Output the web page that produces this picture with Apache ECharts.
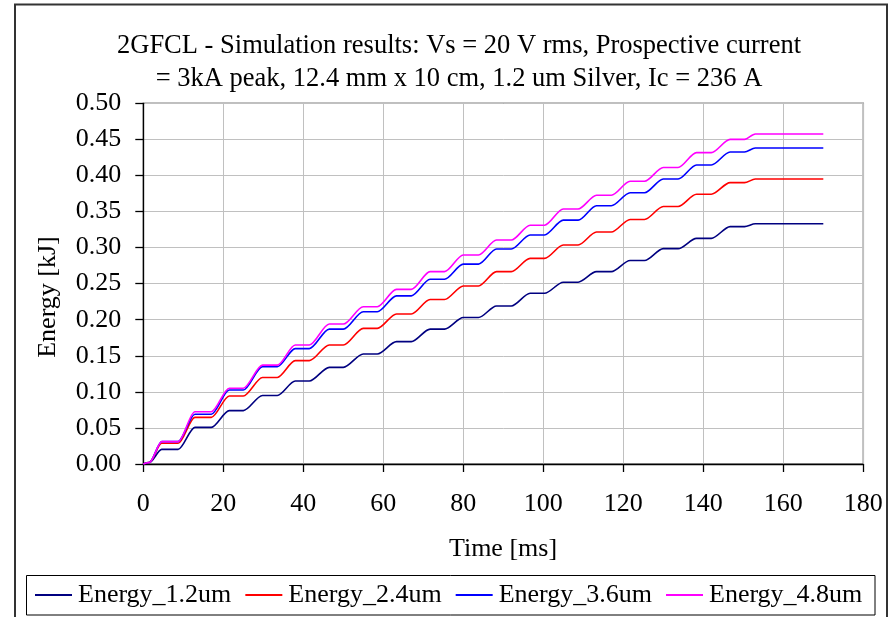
<!DOCTYPE html>
<html>
<head>
<meta charset="utf-8">
<script src="https://cdn.jsdelivr.net/npm/echarts@6/dist/echarts.min.js"></script>
<style>html,body{margin:0;padding:0;background:#fff;}#c{width:893px;height:617px;}</style>
</head>
<body>
<div id="c"></div>
<script>
var seriesNames = ['Energy_1.2um', 'Energy_2.4um', 'Energy_3.6um', 'Energy_4.8um'];
var seriesColors = ['#000080', '#ff0000', '#0000ff', '#ff00ff'];
var xTicks = [0, 20, 40, 60, 80, 100, 120, 140, 160, 180];
var yTicks = [0, 0.05, 0.1, 0.15, 0.2, 0.25, 0.3, 0.35, 0.4, 0.45, 0.5];

var timeMs = [0, 1.5, 4.6, 8.7, 12.9, 17.0, 21.5, 25.0, 29.8, 33.5, 38.0, 41.5, 46.5, 50.0, 55.0, 58.5,
  63.3, 67.0, 71.7, 75.3, 80.0, 83.8, 88.3, 92.0, 96.7, 100.3, 105.0, 108.7, 113.3, 117.0,
  121.7, 125.3, 130.0, 133.7, 138.3, 142.0, 146.7, 150.3, 153.0, 170.0];

var energy12 = [0, 0.002, 0.0203, 0.0203, 0.0508, 0.0508, 0.074, 0.074, 0.095, 0.095, 0.115, 0.115,
  0.134, 0.134, 0.1525, 0.1525, 0.1696, 0.1696, 0.187, 0.187, 0.203, 0.203, 0.219, 0.219,
  0.2366, 0.2366, 0.252, 0.252, 0.2666, 0.2666, 0.282, 0.282, 0.2985, 0.2985, 0.3128, 0.3128,
  0.329, 0.329, 0.333, 0.333];
var energy24 = [0, 0.002, 0.0287, 0.0287, 0.0647, 0.0647, 0.0943, 0.0943, 0.120, 0.120, 0.1433, 0.1433,
  0.165, 0.165, 0.188, 0.188, 0.208, 0.208, 0.228, 0.228, 0.2468, 0.2468, 0.2666, 0.2666,
  0.285, 0.285, 0.3036, 0.3036, 0.3215, 0.3215, 0.339, 0.339, 0.357, 0.357, 0.374, 0.374,
  0.390, 0.390, 0.395, 0.395];
var energy36 = [0, 0.002, 0.031, 0.031, 0.069, 0.069, 0.1026, 0.1026, 0.135, 0.135, 0.160, 0.160,
  0.187, 0.187, 0.211, 0.211, 0.233, 0.233, 0.256, 0.256, 0.277, 0.277, 0.298, 0.298,
  0.3175, 0.3175, 0.338, 0.338, 0.358, 0.358, 0.376, 0.376, 0.395, 0.395, 0.4145, 0.4145,
  0.4325, 0.4325, 0.438, 0.438];
var energy48 = [0, 0.002, 0.031, 0.031, 0.0725, 0.0725, 0.105, 0.105, 0.137, 0.137, 0.165, 0.165,
  0.194, 0.194, 0.218, 0.218, 0.242, 0.242, 0.2666, 0.2666, 0.2897, 0.2897, 0.3105, 0.3105,
  0.331, 0.331, 0.3535, 0.3535, 0.3725, 0.3725, 0.392, 0.392, 0.411, 0.411, 0.4316, 0.4316,
  0.450, 0.450, 0.4575, 0.4575];

var allEnergy = [energy12, energy24, energy36, energy48];
var FONT = '"Liberation Serif", "Times New Roman", serif';

function pairs(vals) {
  return timeMs.map(function (t, i) { return [t, vals[i]]; });
}

var series = seriesNames.map(function (name, k) {
  return {
    name: name,
    type: 'line',
    data: pairs(allEnergy[k]),
    showSymbol: false,
    symbol: 'none',
    smooth: 0.3,
    smoothMonotone: 'x',
    lineStyle: { color: seriesColors[k], width: 1.6 },
    itemStyle: { color: seriesColors[k] },
    emphasis: { disabled: true },
    animation: false,
    z: 3 + k
  };
});

var chart = echarts.init(document.getElementById('c'), null, { renderer: 'canvas' });
chart.setOption({
  animation: false,
  backgroundColor: '#ffffff',
  title: {
    text: '2GFCL - Simulation results: Vs = 20 V rms, Prospective current\n= 3kA peak, 12.4 mm x 10 cm, 1.2 um Silver, Ic = 236 A',
    left: 454, top: 25, textAlign: 'center',
    textStyle: { fontFamily: FONT, fontSize: 26.5, fontWeight: 'normal', color: '#000', lineHeight: 33 }
  },
  grid: { left: 143.3, right: 29.7, top: 103.3, bottom: 153, show: true, borderColor: '#808080', borderWidth: 1.5, backgroundColor: 'transparent' },
  xAxis: {
    type: 'value', min: xTicks[0], max: xTicks[xTicks.length - 1], interval: 20,
    axisLine: { show: true, onZero: false, lineStyle: { color: '#000', width: 1.3 } },
    axisTick: { show: true, length: 8, inside: false, lineStyle: { color: '#000', width: 1.3 } },
    axisLabel: { fontFamily: FONT, fontSize: 26, color: '#000', margin: 27 },
    splitLine: { show: true, lineStyle: { color: '#c0c0c0', width: 1 } }
  },
  yAxis: {
    type: 'value', min: yTicks[0], max: yTicks[yTicks.length - 1], interval: 0.05,
    axisLine: { show: true, onZero: false, lineStyle: { color: '#000', width: 1.3 } },
    axisTick: { show: true, length: 8, inside: false, lineStyle: { color: '#000', width: 1.3 } },
    axisLabel: { fontFamily: FONT, fontSize: 26, color: '#000', margin: 22, formatter: function (v) { return v.toFixed(2); } },
    splitLine: { show: true, lineStyle: { color: '#c0c0c0', width: 1 } }
  },
  legend: {
    data: seriesNames,
    left: 35, top: 582,
    itemWidth: 37, itemHeight: 2, itemGap: 14,
    icon: 'rect',
    textStyle: { fontFamily: FONT, fontSize: 26, color: '#000', padding: [0, 0, 0, 1] },
    padding: 0,
    selectedMode: false
  },
  graphic: [
    { type: 'rect', shape: { x: 15, y: 4.5, width: 872, height: 640 }, style: { fill: 'none', stroke: '#333', lineWidth: 2 }, silent: true, z: 100 },
    { type: 'rect', shape: { x: 26.5, y: 575.5, width: 848.5, height: 39.5 }, style: { fill: 'none', stroke: '#000', lineWidth: 1 }, silent: true, z: 100 },
    { type: 'text', x: 503, y: 549, style: { text: 'Time [ms]', font: '26px ' + FONT, fill: '#000', textAlign: 'center', textVerticalAlign: 'middle' }, silent: true },
    { type: 'text', x: 48, y: 297, rotation: Math.PI / 2, style: { text: 'Energy [kJ]', font: '26px ' + FONT, fill: '#000', textAlign: 'center', textVerticalAlign: 'middle' }, silent: true }
  ],
  series: series
});
</script>
</body>
</html>
